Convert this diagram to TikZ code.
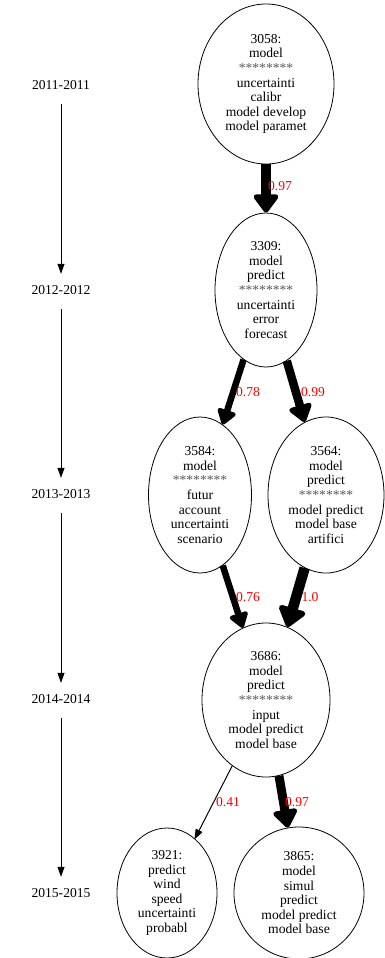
\documentclass[tikz,border=0pt]{standalone}
\usepackage{fontspec}
\setmainfont{Liberation Serif}
\usetikzlibrary{shapes.geometric,arrows.meta}
\newcommand\starline{{\color{black!65}********}}
\begin{document}
\begin{tikzpicture}[x=1pt,y=-1pt,
  font=\fontsize{13.6}{14.6}\selectfont,
  topic/.style={ellipse,draw,line width=0.8pt,inner sep=0pt,align=center},
  yr/.style={inner xsep=2pt,inner ysep=11.7pt,text height=8.6pt,text depth=0pt},
  tl/.style={line width=0.8pt,-{Triangle[length=10pt,width=7pt]},shorten <=3pt},
  ed/.style={line width=#1pt,-{Triangle[length=9pt 1.2 0,width=5pt 2.5 0,round]}},
  lb/.style={text=red,inner sep=0pt}]
\useasboundingbox[fill=white] (0,0) rectangle (385,958);

% timeline
\node[yr] (y2011) at (61,85) {2011-2011};
\node[yr] (y2012) at (61,290) {2012-2012};
\node[yr] (y2013) at (61,494) {2013-2013};
\node[yr] (y2014) at (61,699) {2014-2014};
\node[yr] (y2015) at (61,893) {2015-2015};
\draw[tl] (y2011) -- (y2012);
\draw[tl] (y2012) -- (y2013);
\draw[tl] (y2013) -- (y2014);
\draw[tl] (y2014) -- (y2015);

% topics
\node[topic,minimum width=136pt,minimum height=160pt] (n3058) at (266,84)
  {3058:\\model\\\starline\\uncertainti\\calibr\\model develop\\model paramet};
\node[topic,minimum width=102pt,minimum height=154pt] (n3309) at (266,290)
  {3309:\\model\\predict\\\starline\\uncertainti\\error\\forecast};
\node[topic,minimum width=103pt,minimum height=156pt] (n3584) at (200,495)
  {3584:\\model\\\starline\\futur\\account\\uncertainti\\scenario};
\node[topic,minimum width=116pt,minimum height=156pt] (n3564) at (326,495)
  {3564:\\model\\predict\\\starline\\model predict\\model base\\artifici};
\node[topic,minimum width=128pt,minimum height=154pt] (n3686) at (266,700)
  {3686:\\model\\predict\\\starline\\input\\model predict\\model base};
\node[topic,minimum width=100pt,minimum height=130pt] (n3921) at (167,893)
  {3921:\\predict\\wind\\speed\\uncertainti\\probabl};
\node[topic,minimum width=130pt,minimum height=132pt] (n3865) at (299,893)
  {3865:\\model\\simul\\predict\\model predict\\model base};

% edges
\draw[ed=9.3] (n3058) -- (n3309);
\draw[ed=6.5] (n3309) -- (n3584);
\draw[ed=8.5] (n3309) -- (n3564);
\draw[ed=6.5] (n3584) -- (n3686);
\draw[ed=10.5] (n3564) -- (n3686);
\draw[ed=1] (n3686) -- (n3921);
\draw[ed=9] (n3686) -- (n3865);

% edge labels
\node[lb] (l1) at (280,186) {0.97};
\node[lb] (l2) at (248,392) {0.78};
\node[lb] (l3) at (313,392) {0.99};
\node[lb] (l4) at (248,597) {0.76};
\node[lb] (l5) at (310,597) {1.0};
\node[lb] (l6) at (228,802) {0.41};
\node[lb] (l7) at (297,802) {0.97};
\end{tikzpicture}
\end{document}
